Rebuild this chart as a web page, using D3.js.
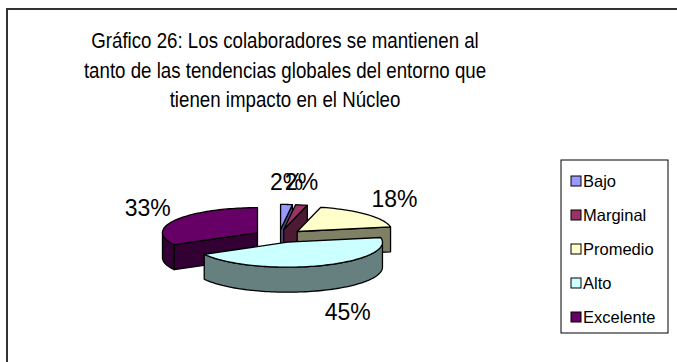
<!DOCTYPE html>
<html>
<head>
<meta charset="utf-8">
<script src="https://cdn.jsdelivr.net/npm/d3@7"></script>
<style>
body { margin: 0; background: #fff; }
text { font-family: "Liberation Sans", Arial, sans-serif; fill: #000; }
</style>
</head>
<body>
<svg id="chart" width="677" height="362"></svg>
<script>
// data
var categories = ["Bajo", "Marginal", "Promedio", "Alto", "Excelente"];
var values = [2, 2, 18, 45, 33];
var labels = ["2%", "2%", "18%", "45%", "33%"];
var colors = ["#9999FF", "#993366", "#FFFFCC", "#CCFFFF", "#660066"];
var titleLines = [
    "Gráfico 26: Los colaboradores se mantienen al",
    "tanto de las tendencias globales del entorno que",
    "tienen impacto en el Núcleo"
];

var cx = 279, cy = 236, rx = 95, ry = 25, depth = 25, explode = 25;
var k = ry / rx;

var svg = d3.select("#chart");

// outer frame (runs off the right and bottom of the picture)
svg.append("rect")
    .attr("x", 7).attr("y", 9)
    .attr("width", 700).attr("height", 400)
    .attr("fill", "#fff")
    .attr("stroke", "#333")
    .attr("stroke-width", 2);

// title, a little condensed like the original
svg.append("g").selectAll("text")
    .data(titleLines)
    .enter().append("text")
    .attr("transform", function(d, i) { return "translate(285," + (48 + i * 29.5) + ") scale(0.85,1)"; })
    .attr("text-anchor", "middle")
    .style("font-size", "22px")
    .text(function(d) { return d; });

var pie = d3.pie().sort(null).value(function(d) { return d; });
var arcs = pie(values);

function mid(a) { return (a.startAngle + a.endAngle) / 2; }
function offset(a) {
    var m = mid(a);
    return [explode * Math.sin(m), -explode * Math.cos(m) * k];
}
function pt(a, t, down) {
    var o = offset(a);
    return [cx + o[0] + rx * Math.sin(t), cy + o[1] - ry * Math.cos(t) + (down || 0)];
}
function apex(a, down) {
    var o = offset(a);
    return [cx + o[0], cy + o[1] + (down || 0)];
}
function arcPts(a, t0, t1, down) {
    var n = Math.max(2, Math.ceil((t1 - t0) / 0.03));
    return d3.range(n + 1).map(function(i) { return pt(a, t0 + (t1 - t0) * i / n, down); });
}
var line = d3.line();
function half(c) { var r = d3.rgb(c); return d3.rgb(r.r / 2, r.g / 2, r.b / 2).toString(); }

// draw slices back to front
var order = arcs.map(function(a, i) { return i; }).sort(function(i, j) {
    return Math.cos(mid(arcs[j])) - Math.cos(mid(arcs[i]));
});

var gPie = svg.append("g");
order.forEach(function(i) {
    var a = arcs[i];
    var g = gPie.append("g");
    var side = half(colors[i]);
    var faces = [];
    if (Math.sin(a.startAngle) < -1e-6) {
        faces.push([apex(a), pt(a, a.startAngle), pt(a, a.startAngle, depth), apex(a, depth)]);
    }
    if (Math.sin(a.endAngle) > 1e-6) {
        faces.push([apex(a), pt(a, a.endAngle), pt(a, a.endAngle, depth), apex(a, depth)]);
    }
    var w0 = Math.max(a.startAngle, Math.PI / 2), w1 = Math.min(a.endAngle, 3 * Math.PI / 2);
    if (w1 > w0) {
        faces.push(arcPts(a, w0, w1).concat(arcPts(a, w0, w1, depth).reverse()));
    }
    faces.forEach(function(f) {
        g.append("path")
            .attr("d", line(f) + "Z")
            .attr("fill", side)
            .attr("stroke", "#000")
            .attr("stroke-width", 1.3)
            .attr("stroke-linejoin", "round");
    });
    g.append("path")
        .attr("d", line([apex(a)].concat(arcPts(a, a.startAngle, a.endAngle))) + "Z")
        .attr("fill", colors[i])
        .attr("stroke", "#000")
        .attr("stroke-width", 1.3)
        .attr("stroke-linejoin", "round");
});

// data labels
var gapY = 23, gapX = 5;
svg.append("g").selectAll("text")
    .data(arcs)
    .enter().append("text")
    .style("font-size", "23px")
    .attr("text-anchor", function(a) {
        var s = Math.sin(mid(a));
        return s > 0.3 ? "start" : (s < -0.3 ? "end" : "middle");
    })
    .attr("x", function(a) {
        var s = Math.sin(mid(a));
        return pt(a, mid(a))[0] + (Math.abs(s) > 0.3 ? gapX * Math.sign(s) : 0);
    })
    .attr("y", function(a) {
        var c = Math.cos(mid(a));
        return pt(a, mid(a), c < 0 ? depth : 0)[1] - gapY * c;
    })
    .attr("dy", "0.35em")
    .text(function(a, i) { return labels[i]; });

// legend
var legY = d3.scalePoint().domain(categories).range([181, 317]);
svg.append("rect")
    .attr("x", 561).attr("y", 160)
    .attr("width", 107).attr("height", 173)
    .attr("fill", "#fff")
    .attr("stroke", "#000")
    .attr("stroke-width", 1);
var leg = svg.append("g").selectAll("g")
    .data(categories)
    .enter().append("g")
    .attr("transform", function(d) { return "translate(571," + legY(d) + ")"; });
leg.append("rect")
    .attr("x", 0).attr("y", -5)
    .attr("width", 10).attr("height", 10)
    .attr("fill", function(d, i) { return colors[i]; })
    .attr("stroke", "#000")
    .attr("stroke-width", 1);
leg.append("text")
    .attr("x", 12).attr("y", 6)
    .style("font-size", "16.5px")
    .text(function(d) { return d; });
</script>
</body>
</html>
